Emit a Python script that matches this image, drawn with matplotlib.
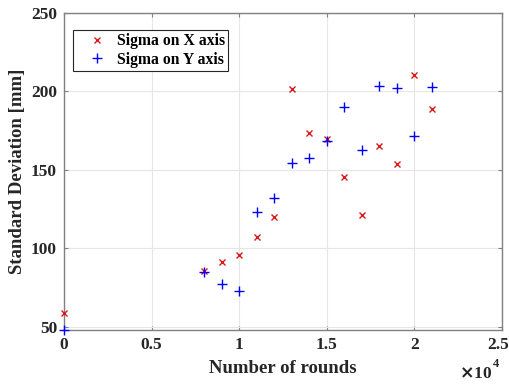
import matplotlib
matplotlib.use("Agg")
import matplotlib.pyplot as plt
from matplotlib.transforms import ScaledTranslation

# Rounds (raw counts) and measured standard deviations [mm]
rounds = [0, 8000, 9000, 10000, 11000, 12000, 13000, 14000, 15000,
          16000, 17000, 18000, 19000, 20000, 21000]
sigma_x = [59, 85.7, 91.1, 95.9, 107.4, 120.2, 201.4, 173.6, 169.9,
           145.7, 121.3, 165.3, 153.6, 210.4, 188.9]
sigma_y = [48, 84.9, 77.0, 72.8, 123.0, 131.9, 154.2, 157.4, 168.5,
           190.0, 162.5, 203.8, 202.5, 171.9, 203.1]

xticks = [0, 5000, 10000, 15000, 20000, 25000]
xtick_labels = ["0", "0.5", "1", "1.5", "2", "2.5"]
yticks = [50, 100, 150, 200, 250]

plt.rcParams["font.family"] = ["Liberation Serif", "DejaVu Serif"]
plt.rcParams["font.weight"] = "bold"

fig = plt.figure(figsize=(5.1, 3.84), dpi=100)
ax = fig.add_axes([0.1255, 0.1406, 0.8585, 0.8254])

ax.plot(rounds, sigma_x, linestyle="none", marker="x", color=(0.85, 0.1, 0.1),
        markersize=4.5, markeredgewidth=1.0, label="Sigma on X axis",
        clip_on=False, zorder=3)
ax.plot(rounds, sigma_y, linestyle="none", marker="+", color=(0.0, 0.0, 1.0),
        markersize=6.5, markeredgewidth=1.0, label="Sigma on Y axis",
        clip_on=False, zorder=3)

ax.set_xlim(0, 25000)
ax.set_ylim(47.9, 250)
ax.set_xticks(xticks)
ax.set_xticklabels(xtick_labels)
ax.set_yticks(yticks)

ax.grid(True, color=(0.9, 0.9, 0.9), linewidth=0.8)
ax.set_axisbelow(True)
for sp in ax.spines.values():
    sp.set_color((0.5, 0.5, 0.5))
    sp.set_linewidth(1.0)
ax.tick_params(direction="in", top=True, right=True, length=3,
               color=(0.5, 0.5, 0.5), labelsize=12.5, labelcolor="#262626",
               pad=5)
for lab in ax.get_xticklabels() + ax.get_yticklabels():
    lab.set_fontweight("bold")
# keep the last x tick label inside the canvas
last = ax.get_xticklabels()[-1]
last.set_transform(last.get_transform() + ScaledTranslation(-4 / 100, 0, fig.dpi_scale_trans))

ax.set_xlabel("Number of rounds", fontsize=13.5, fontweight="bold",
              color="#262626", labelpad=5)
ax.set_ylabel("Standard Deviation [mm]", fontsize=13.5, fontweight="bold",
              color="#262626", labelpad=4)

fig.text(492 / 510, 1 - 378 / 384, r"$\times$10", ha="right", va="baseline",
         fontsize=12.5, fontweight="bold", color="#262626")
fig.text(493 / 510, 1 - 367 / 384, "4", ha="left", va="baseline",
         fontsize=9, fontweight="bold", color="#262626")

leg = ax.legend(loc="upper left", bbox_to_anchor=(0.0205, 0.946),
                borderaxespad=0, fancybox=False, framealpha=1,
                edgecolor="#262626", prop={"size": 11.3, "weight": "bold"},
                handletextpad=0.0, borderpad=0.2, labelspacing=0.15,
                handlelength=2.6)
leg.get_frame().set_linewidth(0.8)

fig.savefig("out.png", dpi=100)
